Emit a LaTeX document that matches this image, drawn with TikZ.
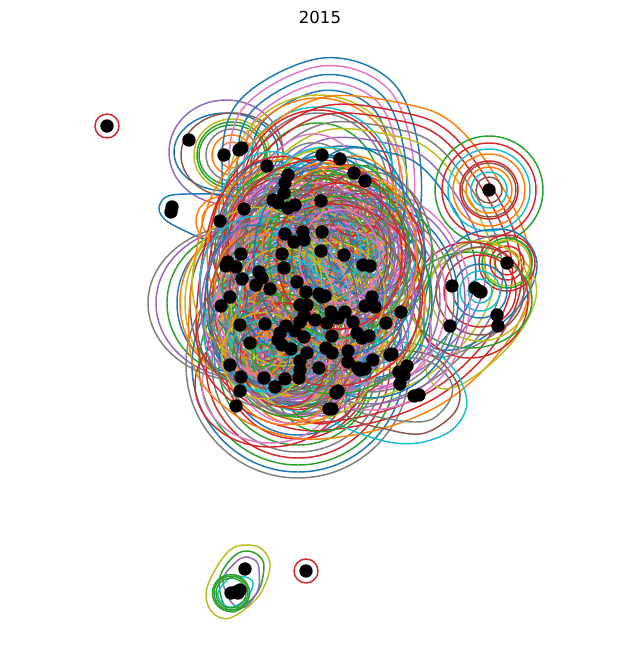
\documentclass[tikz,border=0pt]{standalone}
\usepackage{fontspec}
\setmainfont{DejaVu Sans}
\definecolor{t0}{HTML}{1F77B4}
\definecolor{t1}{HTML}{FF7F0E}
\definecolor{t2}{HTML}{2CA02C}
\definecolor{t3}{HTML}{D62728}
\definecolor{t4}{HTML}{9467BD}
\definecolor{t5}{HTML}{8C564B}
\definecolor{t6}{HTML}{E377C2}
\definecolor{t7}{HTML}{7F7F7F}
\definecolor{t8}{HTML}{BCBD22}
\definecolor{t9}{HTML}{17BECF}
\tikzset{
  ring/.style={line width=1.1pt,line join=round},
  datadot/.style={circle,fill=black,inner sep=0pt,minimum size=10pt},
  titletext/.style={font=\fontsize{12.4}{14}\selectfont,text=black}
}
\newcommand\family[4]{\foreach \s/\c in {#3}{\draw[ring,draw=\c,shift={(#1,#2)},scale=\s,shift={(-#1,-#2)}] plot[smooth cycle,tension=0.6] coordinates {#4};}}
\newcommand\rings[3]{\foreach \rr/\c in {#3}{\draw[ring,draw=\c] (#1,#2) circle[radius=\rr];}}
\newcommand\ovals[3]{\foreach \a/\b/\c in {#3}{\draw[ring,draw=\c] (#1,#2) ellipse[x radius=\a,y radius=\b];}}
\begin{document}
\begin{tikzpicture}[x=0.75pt,y=-0.75pt]
\useasboundingbox (0,0) rectangle (640,656);
\fill[white] (0,0) rectangle (640,656);
% isolated points
\rings{107}{126}{12/t3}
\rings{306}{571}{12/t3}
% upper left
\ovals{226}{152}{57/52/t4,52/39/t0}
\ovals{232}{155}{51/42/t5,38/36/t8,35/33/t2,33/30/t2,26/26/t7,20/20/t1,13/13/t1}
\ovals{220}{221}{18/18/t1,24/24/t1}
\draw[ring,draw=t0] plot[smooth cycle,tension=0.5] coordinates {(159,208) (172,195) (235,196) (262,215) (250,240) (225,246) (205,240) (168,222)};
% left family
\ovals{245}{303}{97/78/t7,89/76/t4,78/74/t2,68/72/t0,65/76/t1,60/80/t8,55/82/t5}
% bottom family
\ovals{298}{365}{112/113/t7,106/107/t0,99/100/t2,92/93/t3,86/87/t7,79/80/t2,73/74/t3,70/70/t0}
\ovals{270}{385}{75/62/t3,68/58/t6}
% top family
\family{323}{170}{1/t0,0.93/t6,0.85/t0,0.78/t6,0.71/t0}{(222,170) (240,100) (323,58) (395,85) (421,170) (405,250) (323,290) (240,250)}
\ovals{318}{190}{90/95/t8,85/92/t1,78/83/t9,75/80/t3,70/77/t7,62/67/t2}
% upper right lobe family
\family{340}{270}{1/t1,0.95/t3,0.90/t3,0.85/t7,0.81/t8,0.76/t4,0.71/t0}{(260,135) (325,97) (410,105) (455,125) (495,175) (525,235) (530,290) (505,345) (455,395) (400,423) (340,437) (290,437) (235,415) (195,370) (190,300) (210,200)}
% top right rings
\rings{489}{190}{54/t2,47/t3,41/t9,36/t1,29/t3,23/t1,18/t9,13/t5}
\draw[ring,draw=t5] (489,190) circle[radius=27];
% right cluster
\draw[ring,draw=t0] plot[smooth cycle,tension=0.6] coordinates {(440,262) (470,234) (515,232) (537,263) (520,305) (470,345) (430,345) (425,300)};
\draw[ring,draw=t8] plot[smooth cycle,tension=0.6] coordinates {(435,270) (490,245) (525,262) (536,297) (510,345) (460,385) (430,380) (420,320)};
\draw[ring,draw=t7] plot[smooth cycle,tension=0.6] coordinates {(445,265) (490,236) (525,245) (531,270) (510,320) (465,350) (430,350)};
\rings{507}{263}{12/t3,17/t3,23/t8,25/t2,28/t3}
\rings{480}{291}{12/t9,20/t9,27/t0,36/t3,44/t5,50/t8}
\ovals{470}{300}{58/58/t3,62/48/t2}
% lower right lobes
\draw[ring,draw=t9] plot[smooth cycle,tension=0.55] coordinates {(330,418) (380,440) (418,443) (452,430) (467,403) (453,368) (420,345) (360,345) (320,380)};
\draw[ring,draw=t5] plot[smooth cycle,tension=0.55] coordinates {(345,412) (390,430) (425,433) (455,412) (458,385) (430,355) (370,355)};
\draw[ring,draw=t7] plot[smooth cycle,tension=0.55] coordinates {(350,405) (395,420) (430,420) (450,400) (450,380) (425,360) (370,360)};
% right interior
\ovals{370}{300}{100/110/t6,95/104/t4,88/98/t0,84/92/t7,76/90/t6,70/82/t4,62/78/t0,55/70/t1}
\ovals{300}{300}{80/115/t6,74/105/t9,68/96/t4}
% dense core: concentric families
\pgfmathsetseed{2015}
\foreach \i in {1,...,30}{
  \pgfmathsetmacro\ang{360*rnd}
  \pgfmathsetmacro\dd{85*sqrt(rnd)}
  \pgfmathsetmacro\cxx{316+\dd*cos(\ang)}
  \pgfmathsetmacro\cyy{285+1.2*\dd*sin(\ang)}
  \pgfmathsetmacro\rmax{112-0.8*\dd}
  \pgfmathsetmacro\asp{1+0.2*rnd}
  \foreach \k in {0,...,7}{
    \pgfmathsetmacro\rad{\rmax-7.5*\k}
    \pgfmathtruncatemacro\cn{mod(\i*3+\k,10)}
    \draw[ring,draw=t\cn] (\cxx,\cyy) ellipse[x radius=\rad,y radius=\asp*\rad];
  }
}
% bottom group
\draw[ring,draw=t8] plot[smooth cycle,tension=0.6] coordinates {(245,545) (262,549) (270,567) (258,597) (230,618) (212,612) (206,593) (215,570) (230,550)};
\draw[ring,draw=t2] plot[smooth cycle,tension=0.6] coordinates {(245,551) (258,555) (264,567) (257,593) (233,612) (222,600) (220,577) (232,558)};
\draw[ring,draw=t4] plot[smooth cycle,tension=0.6] coordinates {(245,557) (256,561) (259,570) (258,590) (245,607) (232,603) (223,580) (235,563)};
\draw[ring,draw=t9] plot[smooth cycle,tension=0.6] coordinates {(218,592) (230,578) (245,577) (253,583) (247,598) (232,607) (222,603)};
\rings{231}{593}{15/t2,17/t2,18.5/t2}
% data points
\foreach \x/\y [count=\n] in {107/126,189/140,224/155,239/150,242/148,267/166,322/155,340/159,354/173,365/181,288/175,285/183,284/193,273/200,278/203,288/208,295/205,321/201,244/209,220/221,172/207,171/212,285/234,303/232,294/242,304/240,322/232,282/254,241/254,321/251,344/255,363/265,370/266,228/262,226/266,236/267,284/268,259/272,262/278,256/285,242/279,270/289,297/282,306/292,230/297,221/306,319/294,325/296,322/297,300/305,307/305,372/297,365/306,375/307,401/312,331/312,345/312,304/316,300/322,315/320,327/323,338/318,353/322,386/323,240/325,265/324,286/326,280/333,295/331,304/337,332/336,357/333,362/338,369/336,278/340,282/345,291/349,250/343,307/353,300/361,326/348,332/353,348/351,348/362,373/360,392/354,390/355,407/366,399/372,404/375,400/384,358/368,365/369,360/370,319/368,300/370,299/378,230/365,241/377,264/378,285/379,275/387,240/391,236/406,336/393,338/391,329/409,332/409,414/396,419/395,489/190,507/263,452/286,475/288,479/291,481/292,450/326,497/315,498/326,306/571,245/569,231/593,236/592,240/590,238/593}{
  \node[datadot] (p\n) at (\x,\y) {};
}
\node[titletext] (title) at (320,17) {2015};
\end{tikzpicture}
\end{document}
